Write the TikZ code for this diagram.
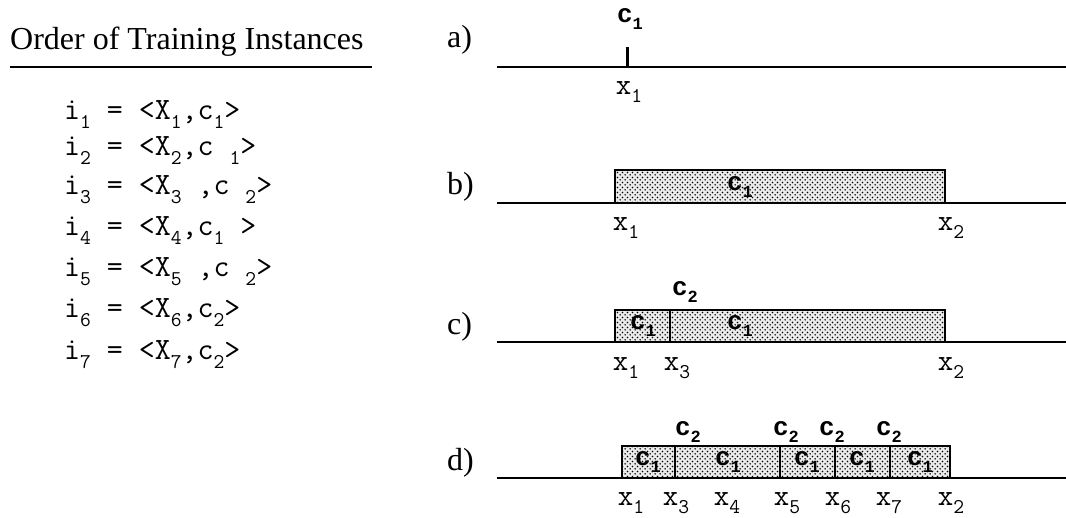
\documentclass[tikz,border=0pt]{standalone}
\usepackage{fontspec}
\setmainfont{Liberation Serif}
\newfontfamily\cbold{Liberation Mono}
\usetikzlibrary{patterns}

% coarse dot screen used for the interval boxes
\pgfdeclarepatternformonly{coarsedots}{\pgfqpoint{0pt}{0pt}}{\pgfqpoint{4.8pt}{4.8pt}}{\pgfqpoint{4.8pt}{4.8pt}}{
  \pgfpathcircle{\pgfqpoint{1.2pt}{1.2pt}}{0.85pt}
  \pgfpathcircle{\pgfqpoint{3.6pt}{3.6pt}}{0.85pt}
  \pgfusepath{fill}
}

% lowered index digit
\newcommand\lo[1]{\raisebox{-0.6ex}{\fontsize{21}{21}\selectfont #1}}
\newcommand\loc[1]{\raisebox{-0.45ex}{\fontsize{17}{17}\selectfont\bfseries #1}}

\tikzset{
  serif/.style={font=\fontsize{32}{32}\selectfont, inner sep=0pt, anchor=base west},
  inst/.style={font=\ttfamily\fontsize{31}{31}\selectfont, inner sep=0pt, anchor=base west},
  xlab/.style={font=\ttfamily\fontsize{30}{30}\selectfont, inner sep=0pt},
  clab/.style={font=\cbold\bfseries\fontsize{26}{26}\selectfont, inner sep=0pt},
  axis/.style={line width=1.6pt},
  seg/.style={draw, line width=1.8pt, preaction={fill=black!8},
              pattern=coarsedots, pattern color=black},
  tick/.style={line width=3pt},
}

\begin{document}
\begin{tikzpicture}[x=1pt, y=-1pt]
\useasboundingbox (0,0) rectangle (1066,518);

% ---- list of training instances ----
\node[serif] (title) at (10,50) {Order of Training Instances};
\draw[line width=1.3pt] (10,67) coordinate (r0) -- (372,67) coordinate (r1);

\node[inst] (i1) at (64,120) {i\lo{1} = <X\lo{1},c\lo{1}>};
\node[inst] (i2) at (64,156) {i\lo{2} = <X\lo{2},c \lo{1}>};
\node[inst] (i3) at (64,195) {i\lo{3} = <X\lo{3} ,c \lo{2}>};
\node[inst] (i4) at (64,236) {i\lo{4} = <X\lo{4},c\lo{1} >};
\node[inst] (i5) at (64,277) {i\lo{5} = <X\lo{5} ,c \lo{2}>};
\node[inst] (i6) at (64,318) {i\lo{6} = <X\lo{6},c\lo{2}>};
\node[inst] (i7) at (64,360) {i\lo{7} = <X\lo{7},c\lo{2}>};

% ---- a) ----
\node[serif] (la) at (447,48) {a)};
\draw[axis] (497,67) coordinate (a0) -- (1066,67) coordinate (a1);
\draw[tick] (627,47) coordinate (ta) -- (627,67) coordinate (tb);
\node[clab] (ca) at (630,19) {c\loc{1}};
\node[xlab] (xa1) at (629,92) {x\lo{1}};

% ---- b) ----
\node[serif] (lb) at (447,195) {b)};
\draw[axis] (497,203) coordinate (b0) -- (1066,203) coordinate (b1);
\draw[seg] (615,170) rectangle (945,203);
\node[clab] (cb) at (740,187) {c\loc{1}};
\node[xlab] (xb1) at (626,228) {x\lo{1}};
\node[xlab] (xb2) at (951,228) {x\lo{2}};

% ---- c) ----
\node[serif] (lc) at (447,335) {c)};
\draw[axis] (497,342) coordinate (c0) -- (1066,342) coordinate (c1);
\draw[seg] (615,310) rectangle (945,342);
\draw[line width=1.8pt] (670,310) -- (670,342);
\node[clab] (cc1) at (643,326) {c\loc{1}};
\node[clab] (cc2) at (740,326) {c\loc{1}};
\node[clab] (cc3) at (685,292) {c\loc{2}};
\node[xlab] (xc1) at (626,368) {x\lo{1}};
\node[xlab] (xc3) at (677,368) {x\lo{3}};
\node[xlab] (xc2) at (951,368) {x\lo{2}};

% ---- d) ----
\node[serif] (ld) at (447,471) {d)};
\draw[axis] (497,478) coordinate (d0) -- (1066,478) coordinate (d1);
\draw[seg] (622,446) rectangle (950,478);
\foreach \xx in {675,780,835,890}
  \draw[line width=1.8pt] (\xx,446) -- (\xx,478);
\foreach \xx/\nm in {648/d1,728/d2,807/d3,862/d4,920/d5}
  \node[clab] (c\nm) at (\xx,462) {c\loc{1}};
\foreach \xx/\nm in {688/e1,786/e2,832/e3,889/e4}
  \node[clab] (c\nm) at (\xx,432) {c\loc{2}};
\foreach \xx/\s in {631/1,676/3,727/4,787/5,838/6,889/7,951/2}
  \node[xlab] (xd\s) at (\xx,503) {x\lo{\s}};
\end{tikzpicture}
\end{document}
